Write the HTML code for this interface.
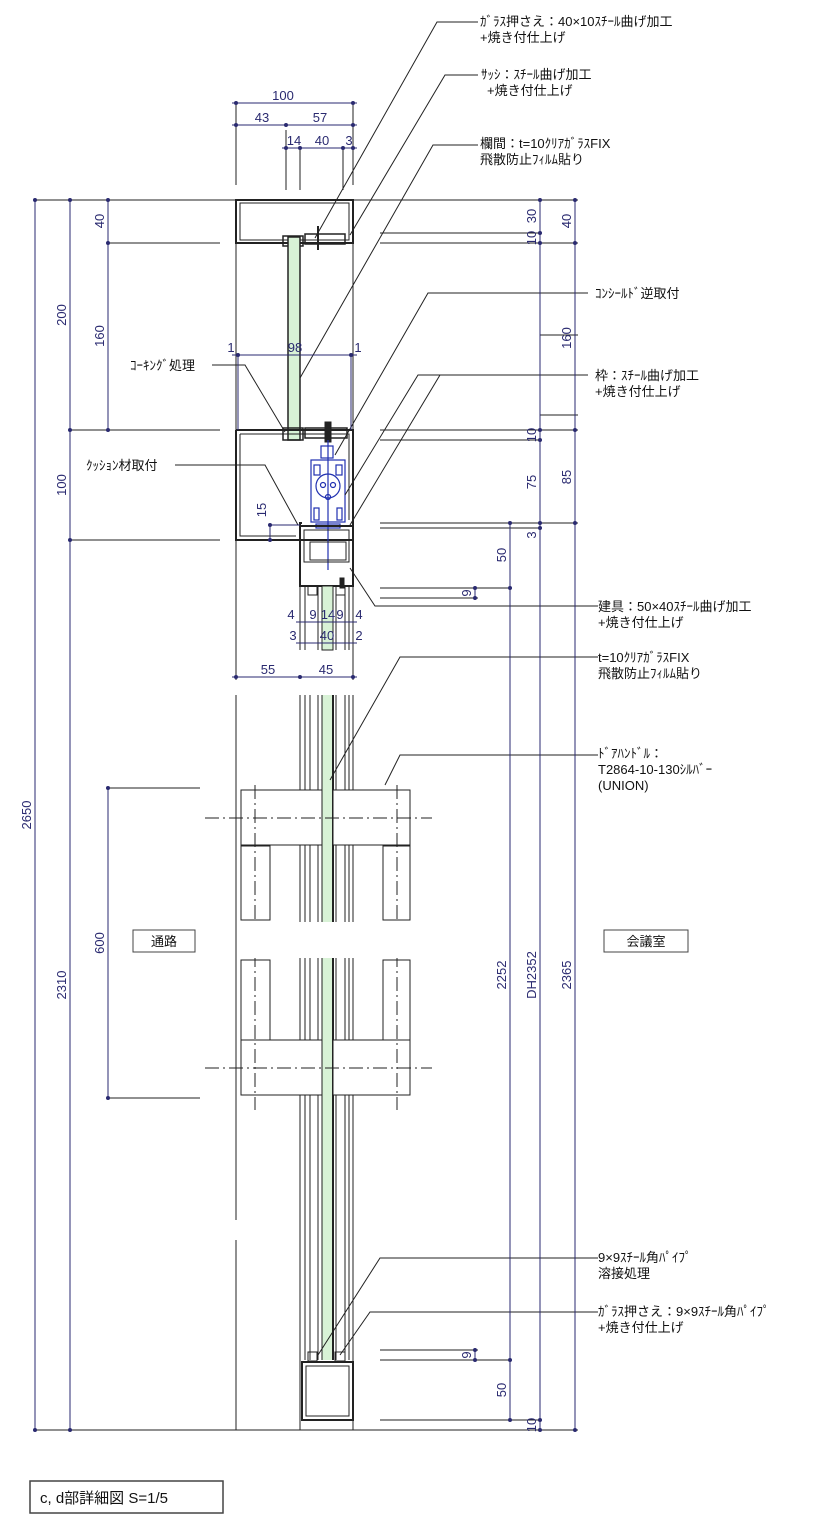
<!DOCTYPE html>
<html><head><meta charset="utf-8"><style>
html,body{margin:0;padding:0;background:#fff}
svg{display:block}
.t{font-family:"Liberation Sans","Noto Sans CJK JP",sans-serif;font-size:13px;fill:#111}
.d{font-family:"Liberation Sans","Noto Sans CJK JP",sans-serif;font-size:13px;fill:#2a2a70}
</style></head><body>
<svg width="829" height="1536" viewBox="0 0 829 1536" xmlns="http://www.w3.org/2000/svg">
<g stroke="#222" stroke-width="1" fill="none">
<line x1="35" y1="200" x2="430" y2="200"/>
<line x1="380" y1="200" x2="578" y2="200"/>
<line x1="108" y1="243" x2="220" y2="243"/>
<line x1="380" y1="233" x2="542" y2="233"/>
<line x1="380" y1="243" x2="578" y2="243"/>
<line x1="70" y1="430" x2="220" y2="430"/>
<line x1="380" y1="430" x2="578" y2="430"/>
<line x1="380" y1="440" x2="542" y2="440"/>
<line x1="70" y1="540" x2="220" y2="540"/>
<line x1="380" y1="523" x2="578" y2="523"/>
<line x1="380" y1="528" x2="542" y2="528"/>
<line x1="380" y1="588" x2="512" y2="588"/>
<line x1="380" y1="598" x2="478" y2="598"/>
<line x1="380" y1="1350" x2="478" y2="1350"/>
<line x1="380" y1="1360" x2="512" y2="1360"/>
<line x1="380" y1="1420" x2="542" y2="1420"/>
<line x1="35" y1="1430" x2="430" y2="1430"/>
<line x1="380" y1="1430" x2="578" y2="1430"/>
<line x1="108" y1="788" x2="200" y2="788"/>
<line x1="108" y1="1098" x2="200" y2="1098"/>
<line x1="540" y1="335" x2="578" y2="335"/>
<line x1="540" y1="415" x2="578" y2="415"/>
<line x1="236" y1="105" x2="236" y2="185"/>
<line x1="353" y1="105" x2="353" y2="185"/>
<line x1="286" y1="130" x2="286" y2="190"/>
<line x1="300" y1="150" x2="300" y2="190"/>
<line x1="343" y1="150" x2="343" y2="190"/>
<line x1="236" y1="200" x2="236" y2="680"/>
<line x1="353" y1="200" x2="353" y2="680"/>
<line x1="236" y1="695" x2="236" y2="1220"/>
<line x1="236" y1="1240" x2="236" y2="1430"/>
<rect x="236" y="200" width="117" height="43" stroke-width="2"/>
<rect x="240" y="203" width="109" height="37"/>
<line x1="254" y1="203" x2="330" y2="203" stroke-width="1"/>
<rect x="283" y="236" width="20" height="10" stroke-width="1.5"/>
<rect x="305" y="234" width="40" height="10" stroke-width="1.5"/>
<line x1="318" y1="226" x2="318" y2="250" stroke-width="2"/>
<rect x="288" y="237" width="12" height="203" fill="#d8f2d6" stroke-width="1.5"/>
<path d="M236 430 H353 V540 H300 V523 H302 M236 430 V540 H300" stroke-width="2"/>
<path d="M240 434 H349 V520 M240 434 V536 H296" />
<rect x="283" y="428" width="20" height="12" stroke-width="1.5"/>
<rect x="305" y="428" width="42" height="10" stroke-width="1.5"/>
<rect x="325" y="422" width="6" height="20" fill="#222"/>
<g stroke="#2030b0" stroke-width="1.2">
<rect x="311" y="460" width="34" height="62"/>
<rect x="321" y="446" width="12" height="12"/>
<circle cx="328" cy="486" r="12"/>
<circle cx="323" cy="485" r="2.5"/><circle cx="333" cy="485" r="2.5"/>
<circle cx="328" cy="497" r="2.5"/>
<rect x="314" y="465" width="6" height="10"/><rect x="336" y="465" width="6" height="10"/>
<rect x="314" y="508" width="5" height="12"/><rect x="337" y="508" width="5" height="12"/>
<line x1="328" y1="440" x2="328" y2="570"/>
<rect x="316" y="524" width="24" height="4"/>
</g>
<rect x="300" y="526" width="53" height="60" stroke-width="2"/>
<rect x="304" y="530" width="45" height="32"/>
<rect x="310" y="542" width="36" height="18"/>
<line x1="304" y1="562" x2="349" y2="562"/>
<rect x="308" y="586" width="9" height="9"/>
<rect x="336" y="586" width="9" height="9"/>
<rect x="340" y="578" width="4" height="10" fill="#222"/>
<g stroke-width="1">
<line x1="300" y1="586" x2="300" y2="650"/><line x1="305" y1="586" x2="305" y2="650"/>
<line x1="318" y1="586" x2="318" y2="650"/><line x1="336" y1="586" x2="336" y2="650"/>
<line x1="345" y1="586" x2="345" y2="650"/><line x1="349" y1="586" x2="349" y2="650"/>
</g>
<rect x="322" y="586" width="11" height="64" fill="#d8f2d6"/>
<g>
<rect x="322" y="695" width="11" height="665" fill="#d8f2d6" stroke="none"/>
<line x1="322" y1="695" x2="322" y2="1360"/><line x1="333" y1="695" x2="333" y2="1360" stroke-width="2"/>
<line x1="300" y1="695" x2="300" y2="1430"/><line x1="305" y1="695" x2="305" y2="1360"/>
<line x1="310" y1="695" x2="310" y2="1360"/><line x1="318" y1="695" x2="318" y2="1360"/>
<line x1="336" y1="695" x2="336" y2="1360"/><line x1="345" y1="695" x2="345" y2="1360"/>
<line x1="349" y1="695" x2="349" y2="1360"/><line x1="353" y1="695" x2="353" y2="1430"/>
</g>
<rect x="241" y="790" width="81" height="55" fill="#fff"/>
<rect x="333" y="790" width="77" height="55" fill="#fff"/>
<rect x="241" y="1040" width="81" height="55" fill="#fff"/>
<rect x="333" y="1040" width="77" height="55" fill="#fff"/>
<rect x="241" y="846" width="29" height="74" fill="#fff"/>
<rect x="383" y="846" width="27" height="74" fill="#fff"/>
<rect x="241" y="960" width="29" height="80" fill="#fff"/>
<rect x="383" y="960" width="27" height="80" fill="#fff"/>
<g stroke-dasharray="14,4,2,4">
<line x1="205" y1="818" x2="432" y2="818"/>
<line x1="205" y1="1068" x2="432" y2="1068"/>
<line x1="255" y1="785" x2="255" y2="1110"/>
<line x1="397" y1="785" x2="397" y2="1110"/>
</g>
<rect x="238" y="922" width="176" height="36" fill="#fff" stroke="none"/>
<rect x="308" y="1352" width="9" height="9"/>
<rect x="335" y="1352" width="10" height="9"/>
<rect x="302" y="1362" width="51" height="58" stroke-width="2"/>
<rect x="306" y="1366" width="43" height="50"/>
<polyline points="478,22 437,22 315,238"/>
<polyline points="478,75 445,75 350,235"/>
<polyline points="478,145 433,145 300,378"/>
<polyline points="588,293 428,293 335,455"/>
<polyline points="588,375 418,375 345,495"/>
<polyline points="440,375 350,525"/>
<polyline points="212,365 245,365 285,432"/>
<polyline points="175,465 265,465 298,525"/>
<polyline points="598,606 375,606 350,568"/>
<polyline points="598,657 400,657 330,780"/>
<polyline points="598,755 400,755 385,785"/>
<polyline points="598,1258 380,1258 318,1355"/>
<polyline points="598,1312 370,1312 340,1355"/>
<rect x="30" y="1481" width="193" height="32" stroke="#444" stroke-width="1.5"/>
<rect x="133" y="930" width="62" height="22" stroke="#444"/>
<rect x="604" y="930" width="84" height="22" stroke="#444"/>
</g>
<g stroke="#2a2a70" stroke-width="1" fill="#2a2a70">
<line x1="35" y1="200" x2="35" y2="1430"/>
<line x1="70" y1="200" x2="70" y2="1430"/>
<line x1="108" y1="200" x2="108" y2="430"/>
<line x1="108" y1="788" x2="108" y2="1098"/>
<line x1="575" y1="200" x2="575" y2="1430"/>
<line x1="540" y1="200" x2="540" y2="1430"/>
<line x1="510" y1="523" x2="510" y2="1420"/>
<line x1="475" y1="588" x2="475" y2="600"/>
<line x1="475" y1="1348" x2="475" y2="1360"/>
<line x1="232" y1="103" x2="357" y2="103"/>
<line x1="232" y1="125" x2="357" y2="125"/>
<line x1="282" y1="148" x2="357" y2="148"/>
<line x1="232" y1="355" x2="357" y2="355"/>
<line x1="238" y1="355" x2="238" y2="430"/><line x1="351" y1="355" x2="351" y2="430"/>
<line x1="270" y1="525" x2="300" y2="525"/><line x1="270" y1="525" x2="270" y2="540"/>
<line x1="296" y1="622" x2="357" y2="622"/>
<line x1="296" y1="643" x2="357" y2="643"/>
<line x1="232" y1="677" x2="357" y2="677"/>
<g stroke="none">
<circle cx="236" cy="103" r="2"/><circle cx="353" cy="103" r="2"/>
<circle cx="236" cy="125" r="2"/><circle cx="286" cy="125" r="2"/><circle cx="353" cy="125" r="2"/>
<circle cx="286" cy="148" r="2"/><circle cx="300" cy="148" r="2"/><circle cx="343" cy="148" r="2"/><circle cx="353" cy="148" r="2"/>
<circle cx="238" cy="355" r="2"/><circle cx="351" cy="355" r="2"/>
<circle cx="236" cy="677" r="2"/><circle cx="300" cy="677" r="2"/><circle cx="353" cy="677" r="2"/>
<circle cx="35" cy="200" r="2"/><circle cx="35" cy="1430" r="2"/>
<circle cx="70" cy="200" r="2"/><circle cx="70" cy="430" r="2"/><circle cx="70" cy="540" r="2"/><circle cx="70" cy="1430" r="2"/>
<circle cx="108" cy="200" r="2"/><circle cx="108" cy="243" r="2"/><circle cx="108" cy="430" r="2"/>
<circle cx="108" cy="788" r="2"/><circle cx="108" cy="1098" r="2"/>
<circle cx="575" cy="200" r="2"/><circle cx="575" cy="243" r="2"/><circle cx="575" cy="430" r="2"/><circle cx="575" cy="523" r="2"/><circle cx="575" cy="1430" r="2"/>
<circle cx="540" cy="200" r="2"/><circle cx="540" cy="233" r="2"/><circle cx="540" cy="243" r="2"/><circle cx="540" cy="430" r="2"/><circle cx="540" cy="440" r="2"/><circle cx="540" cy="523" r="2"/><circle cx="540" cy="528" r="2"/><circle cx="540" cy="1420" r="2"/><circle cx="540" cy="1430" r="2"/>
<circle cx="510" cy="523" r="2"/><circle cx="510" cy="588" r="2"/><circle cx="510" cy="1360" r="2"/><circle cx="510" cy="1420" r="2"/>
<circle cx="475" cy="588" r="2"/><circle cx="475" cy="598" r="2"/><circle cx="475" cy="1350" r="2"/><circle cx="475" cy="1360" r="2"/>
<circle cx="270" cy="525" r="2"/><circle cx="270" cy="540" r="2"/>
</g>
</g>
<g class="d">
<text x="283" y="100" text-anchor="middle">100</text>
<text x="262" y="122" text-anchor="middle">43</text>
<text x="320" y="122" text-anchor="middle">57</text>
<text x="294" y="145" text-anchor="middle">14</text>
<text x="322" y="145" text-anchor="middle">40</text>
<text x="349" y="145" text-anchor="middle">3</text>
<text x="231" y="352" text-anchor="middle">1</text>
<text x="295" y="352" text-anchor="middle">98</text>
<text x="358" y="352" text-anchor="middle">1</text>
<text x="291" y="619" text-anchor="middle">4</text>
<text x="313" y="619" text-anchor="middle">9</text>
<text x="328" y="619" text-anchor="middle">14</text>
<text x="340" y="619" text-anchor="middle">9</text>
<text x="359" y="619" text-anchor="middle">4</text>
<text x="293" y="640" text-anchor="middle">3</text>
<text x="327" y="640" text-anchor="middle">40</text>
<text x="359" y="640" text-anchor="middle">2</text>
<text x="268" y="674" text-anchor="middle">55</text>
<text x="326" y="674" text-anchor="middle">45</text>
<g transform="rotate(-90)">
<text x="-815" y="31" text-anchor="middle">2650</text>
<text x="-315" y="66" text-anchor="middle">200</text>
<text x="-485" y="66" text-anchor="middle">100</text>
<text x="-985" y="66" text-anchor="middle">2310</text>
<text x="-221" y="104" text-anchor="middle">40</text>
<text x="-336" y="104" text-anchor="middle">160</text>
<text x="-943" y="104" text-anchor="middle">600</text>
<text x="-510" y="266" text-anchor="middle">15</text>
<text x="-221" y="571" text-anchor="middle">40</text>
<text x="-338" y="571" text-anchor="middle">160</text>
<text x="-477" y="571" text-anchor="middle">85</text>
<text x="-975" y="571" text-anchor="middle">2365</text>
<text x="-216" y="536" text-anchor="middle">30</text>
<text x="-238" y="536" text-anchor="middle">10</text>
<text x="-435" y="536" text-anchor="middle">10</text>
<text x="-482" y="536" text-anchor="middle">75</text>
<text x="-535" y="536" text-anchor="middle">3</text>
<text x="-975" y="536" text-anchor="middle">DH2352</text>
<text x="-1425" y="536" text-anchor="middle">10</text>
<text x="-555" y="506" text-anchor="middle">50</text>
<text x="-975" y="506" text-anchor="middle">2252</text>
<text x="-1390" y="506" text-anchor="middle">50</text>
<text x="-593" y="471" text-anchor="middle">9</text>
<text x="-1355" y="471" text-anchor="middle">9</text>
</g>
</g>
<g class="t">
<text x="480" y="26">ｶﾞﾗｽ押さえ：40×10ｽﾁｰﾙ曲げ加工</text>
<text x="480" y="42">+焼き付仕上げ</text>
<text x="481" y="79">ｻｯｼ：ｽﾁｰﾙ曲げ加工</text>
<text x="487" y="95">+焼き付仕上げ</text>
<text x="480" y="148">欄間：t=10ｸﾘｱｶﾞﾗｽFIX</text>
<text x="480" y="164">飛散防止ﾌｨﾙﾑ貼り</text>
<text x="595" y="298">ｺﾝｼｰﾙﾄﾞ逆取付</text>
<text x="595" y="380">枠：ｽﾁｰﾙ曲げ加工</text>
<text x="595" y="396">+焼き付仕上げ</text>
<text x="130" y="370">ｺｰｷﾝｸﾞ処理</text>
<text x="86" y="470">ｸｯｼｮﾝ材取付</text>
<text x="598" y="611">建具：50×40ｽﾁｰﾙ曲げ加工</text>
<text x="598" y="627">+焼き付仕上げ</text>
<text x="598" y="662">t=10ｸﾘｱｶﾞﾗｽFIX</text>
<text x="598" y="678">飛散防止ﾌｨﾙﾑ貼り</text>
<text x="598" y="758">ﾄﾞｱﾊﾝﾄﾞﾙ：</text>
<text x="598" y="774">T2864-10-130ｼﾙﾊﾞｰ</text>
<text x="598" y="790">(UNION)</text>
<text x="598" y="1262">9×9ｽﾁｰﾙ角ﾊﾟｲﾌﾟ</text>
<text x="598" y="1278">溶接処理</text>
<text x="598" y="1316">ｶﾞﾗｽ押さえ：9×9ｽﾁｰﾙ角ﾊﾟｲﾌﾟ</text>
<text x="598" y="1332">+焼き付仕上げ</text>
<text x="164" y="946" text-anchor="middle">通路</text>
<text x="646" y="946" text-anchor="middle">会議室</text>
<text x="40" y="1503" style="font-size:15px">c, d部詳細図  S=1/5</text>
</g>
</svg>
</body></html>
